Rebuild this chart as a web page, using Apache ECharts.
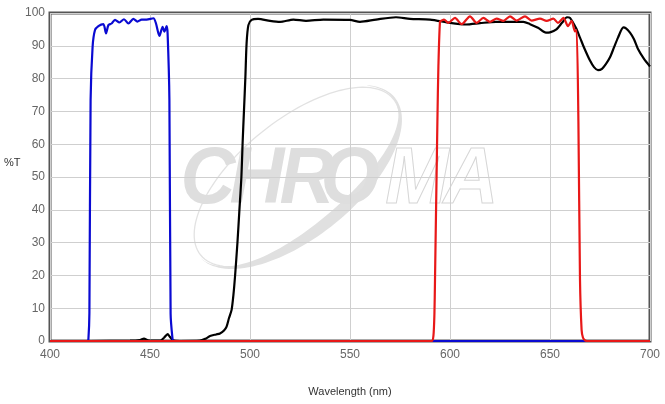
<!DOCTYPE html>
<html>
<head>
<meta charset="utf-8">
<script src="https://cdn.jsdelivr.net/npm/echarts@6/dist/echarts.min.js"></script>
<style>html,body{margin:0;padding:0;background:#fff;}#chart{width:665px;height:404px;}</style>
</head>
<body>
<div id="chart"></div>
<script>
var xTicks = [400, 450, 500, 550, 600, 650, 700];
var yTicks = [0, 10, 20, 30, 40, 50, 60, 70, 80, 90, 100];

var blackSeries = [[400,0],[420,0],[440,0.1],[445,0.3],[447,0.7],[449,0.2],[455,0.1],[457,1.0],[458.8,2.1],[460,1.2],[461.5,0.2],[465,0],[475,0.1],[478,0.8],[480,1.5],[483,2.0],[485,2.3],[487,3.2],[488.3,4.4],[489.5,7],[490.8,9.5],[491.7,14],[492.5,19.6],[493.7,29.8],[494.7,39.9],[495.7,50],[496.3,60.3],[497,70.4],[497.7,80.6],[498.3,90.8],[499.2,96.3],[500.8,97.9],[504,98.2],[510,97.6],[515,97.3],[521.7,98],[528,97.6],[536.7,98],[550,97.9],[555,97.3],[563,98],[573,98.7],[580,98.2],[590,98],[600,97],[608,96.5],[615,96.9],[623,97.3],[636.7,97.3],[640,96.6],[644,95.5],[648,94],[650,94.1],[653,94.9],[656,97],[658.5,98.7],[660,98.5],[663,95.4],[665,92.5],[667,89.5],[670,85.5],[672,83.5],[674,82.6],[676,83],[678,84.5],[680,86.5],[682,89.5],[684,92.5],[686.7,95.6],[688,95.3],[690,94],[692,92],[694,89],[697,86],[700,83.7]];

var blueSeries = [[400,0],[418.8,0],[419.2,0.5],[419.7,8.5],[420.3,73.5],[421.3,89.7],[422.5,94.8],[424.2,96],[426.7,96.6],[428,93.8],[429.2,96.3],[430.8,96.8],[432.5,97.9],[434.7,97.1],[437,98.1],[439.2,96.8],[441.7,98.2],[443.7,97.4],[445.8,98],[448.3,98],[451.7,98.4],[453,96.8],[454.7,93],[456.3,95.8],[457.2,94.3],[458.3,96],[458.8,93.8],[459.7,73.5],[460.3,8.4],[461.2,1],[461.7,0],[700,0]];

var redSeries = [[400,0],[590.8,0],[591.7,1.5],[592.2,8],[592.5,18.6],[593.7,67],[594.2,83.7],[595,97.4],[595.8,97.7],[597,98],[599.2,97],[602.5,98.5],[605.8,96.6],[610,99],[613.3,97],[616.7,98.5],[620,97.3],[623.3,98.3],[626.7,97.6],[630,99],[633.3,97.7],[637.5,99],[640.8,97.7],[645,98.3],[648.3,97.6],[651.7,98.3],[654,97],[656.7,98.5],[659,96],[660.8,97.6],[662.5,94.4],[663.3,94.8],[664.2,67],[665,18.6],[665.8,3.4],[666.5,1],[667.5,0.2],[668.5,0],[700,0]];

// watermark geometry (decoration only)
function ellPt(cx, cy, rx, ry, th, t) {
  var x = rx * Math.cos(t), y = ry * Math.sin(t);
  return [cx + x * Math.cos(th) + y * Math.sin(th), cy - x * Math.sin(th) + y * Math.cos(th)];
}
var WCX = 297, WCY = 177, WRX = 124, WRY = 57, WTH = 39 * Math.PI / 180;
var ringPts = [];
for (var i = 0; i <= 120; i++) ringPts.push(ellPt(WCX, WCY, WRX, WRY, WTH, i / 120 * 2 * Math.PI));
var crescent = [];
var t0 = -0.15 * Math.PI, t1 = Math.PI;
for (var i = 0; i <= 80; i++) { var t = t0 + (t1 - t0) * i / 80; crescent.push(ellPt(WCX, WCY, WRX + 2, WRY + 3, WTH, t)); }
for (var i = 80; i >= 0; i--) { var t = t0 + (t1 - t0) * i / 80; var w = 12 * Math.max(0, Math.sin(0.85 * t + 0.15 * Math.PI)); crescent.push(ellPt(WCX, WCY, WRX + 2 - w * 0.3, WRY + 3 - w, WTH, t)); }

var letters = [
  {ch: 'C', x: 208, fill: '#dedede', stroke: null},
  {ch: 'H', x: 257, fill: '#dedede', stroke: null},
  {ch: 'R', x: 307, fill: '#dedede', stroke: null},
  {ch: 'O', x: 350, fill: '#dedede', stroke: null},
  {ch: 'M', x: 417, fill: 'rgba(255,255,255,0)', stroke: '#d6d6d6'},
  {ch: 'A', x: 471, fill: 'rgba(255,255,255,0)', stroke: '#d6d6d6'}
];
var graphics = [
  {type: 'polygon', z: -10, silent: true, shape: {points: ringPts}, style: {fill: 'none', stroke: '#e2e2e2', lineWidth: 1.3}},
  {type: 'polygon', z: -10, silent: true, shape: {points: crescent}, style: {fill: '#e0e0e0', stroke: 'none'}}
];
letters.forEach(function (l) {
  graphics.push({type: 'text', z: -9, silent: true, x: l.x, y: 181, scaleY: 1.05,
    style: {text: l.ch, font: 'italic bold 76px "Liberation Sans"', fill: l.fill, stroke: l.stroke, lineWidth: l.stroke ? 1 : 0, align: 'center', verticalAlign: 'middle'}});
});
graphics.push({type: 'text', left: 4, top: 157, style: {text: '%T', font: '11px "Liberation Sans"', fill: '#333'}});

var chart = echarts.init(document.getElementById('chart'), null, {renderer: 'canvas'});
chart.setOption({
  animation: false,
  backgroundColor: '#fff',
  graphic: graphics,
  grid: {left: 50, right: 15, top: 13, bottom: 63, show: true, borderColor: '#555', borderWidth: 3, backgroundColor: 'transparent'},
  xAxis: {
    type: 'value', min: xTicks[0], max: xTicks[xTicks.length - 1], interval: 50,
    name: 'Wavelength (nm)', nameLocation: 'middle', nameGap: 45,
    nameTextStyle: {fontSize: 11, color: '#333', fontFamily: 'Liberation Sans'},
    axisLine: {show: false}, axisTick: {show: false},
    axisLabel: {margin: 8, fontSize: 12, color: '#666', fontFamily: 'Liberation Sans'},
    splitLine: {show: true, lineStyle: {color: '#cfcfcf', width: 1}}
  },
  yAxis: {
    type: 'value', min: yTicks[0], max: yTicks[yTicks.length - 1], interval: 10,
    axisLine: {show: false}, axisTick: {show: false},
    axisLabel: {margin: 5, fontSize: 12, color: '#666', fontFamily: 'Liberation Sans'},
    splitLine: {show: true, lineStyle: {color: '#cfcfcf', width: 1}}
  },
  series: [
    {type: 'line', data: blackSeries, showSymbol: false, smooth: 0.25, lineStyle: {color: '#000', width: 2.2}, z: 3},
    {type: 'line', data: blueSeries, showSymbol: false, smooth: 0.25, lineStyle: {color: '#0a0ad2', width: 2.2}, z: 4},
    {type: 'line', data: redSeries, showSymbol: false, smooth: 0.25, lineStyle: {color: '#e81818', width: 2.2}, z: 5}
  ]
});
</script>
</body>
</html>
